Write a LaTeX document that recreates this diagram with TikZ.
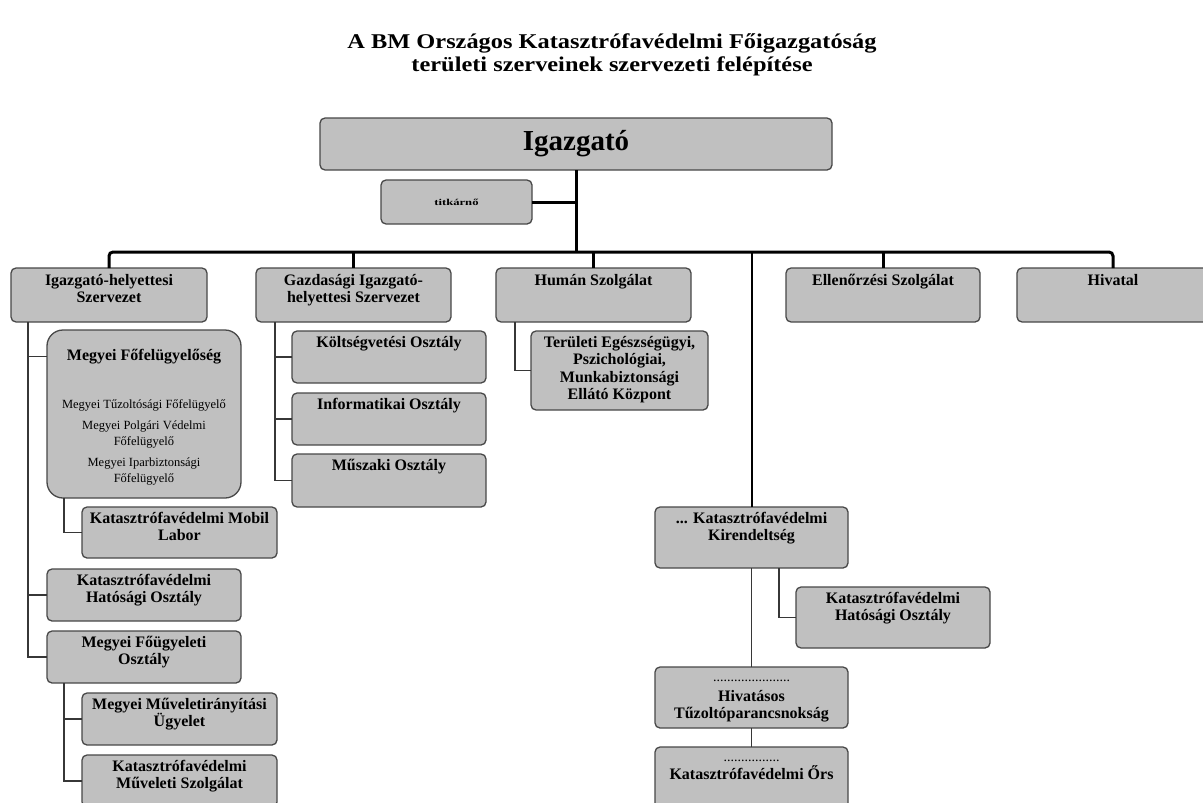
\documentclass[tikz,border=0pt]{standalone}
\usepackage{fontspec}
\usepackage{graphicx}
\setmainfont{Liberation Serif}
\definecolor{boxfill}{RGB}{192,192,192}
\definecolor{boxline}{RGB}{72,72,72}
\definecolor{conn}{RGB}{55,55,55}
\tikzset{
  box/.style={draw=boxline, fill=boxfill, line width=1.3pt, rounded corners=5pt, inner sep=0pt, outer sep=0pt},
  bigbox/.style={box, rounded corners=16pt},
  lbl/.style={font=\bfseries\fontsize{16}{17.5}\selectfont, align=center, inner sep=0pt, anchor=north},
  smalltxt/.style={font=\fontsize{12.5}{16}\selectfont, align=center, inner sep=0pt, anchor=north},
  busline/.style={line width=3pt, black},
  midline/.style={line width=2pt, black},
  thinline/.style={line width=1.2pt, conn},
  ttl/.style={font=\bfseries\fontsize{21}{23}\selectfont, inner sep=0pt, anchor=base},
}
\newcommand\dotrow[1]{{\mdseries\fontsize{14}{14}\selectfont #1}}
\begin{document}
\begin{tikzpicture}[x=1pt,y=-1pt]
\useasboundingbox (0,0) rectangle (1203,803);
\clip (0,0) rectangle (1203,803);
\fill[white] (0,0) rectangle (1203,803);

% title
\node[ttl] (t1) at (612,48) {\scalebox{1.16}[1]{A BM Országos Katasztrófavédelmi Főigazgatóság}};
\node[ttl] (t2) at (612,71) {\scalebox{1.16}[1]{területi szerveinek szervezeti felépítése}};

% top
\node[box, minimum width=512pt, minimum height=52pt, font=\bfseries\fontsize{29}{34}\selectfont] (igz) at (576,144) {Igazgató};
\node[box, minimum width=151pt, minimum height=44pt, font=\bfseries\fontsize{9}{10}\selectfont] (tit) at (456.5,202) {\scalebox{1.4}[1]{titkárnő}};

% level 1
\node[box, minimum width=196pt, minimum height=54pt] (ih) at (109,295) {};
\node[lbl] (ihT) at ([yshift=-6pt]ih.north) {Igazgató-helyettesi\\Szervezet};
\node[box, minimum width=195pt, minimum height=54pt] (gz) at (353.5,295) {};
\node[lbl] (gzT) at ([yshift=-6pt]gz.north) {Gazdasági Igazgató-\\helyettesi Szervezet};
\node[box, minimum width=195pt, minimum height=54pt] (hu) at (593.5,295) {};
\node[lbl] (huT) at ([yshift=-6pt]hu.north) {Humán Szolgálat};
\node[box, minimum width=194pt, minimum height=54pt] (el) at (883,295) {};
\node[lbl] (elT) at ([yshift=-6pt]el.north) {Ellenőrzési Szolgálat};
\node[box, minimum width=192pt, minimum height=54pt] (hi) at (1113,295) {};
\node[lbl] (hiT) at ([yshift=-6pt]hi.north) {Hivatal};

% Gazdasagi children
\node[box, minimum width=194pt, minimum height=52pt] (kol) at (389,357) {};
\node[lbl] (kolT) at ([yshift=-5pt]kol.north) {Költségvetési Osztály};
\node[box, minimum width=194pt, minimum height=52pt] (inf) at (389,419) {};
\node[lbl] (infT) at ([yshift=-5pt]inf.north) {Informatikai Osztály};
\node[box, minimum width=194pt, minimum height=53pt] (msz) at (389,480.5) {};
\node[lbl] (mszT) at ([yshift=-5pt]msz.north) {Műszaki Osztály};

% Human child
\node[box, minimum width=177pt, minimum height=79pt] (egs) at (619.5,370.5) {};
\node[lbl] (egsT) at ([yshift=-5pt]egs.north) {Területi Egészségügyi,\\Pszichológiai,\\Munkabiztonsági\\Ellátó Központ};

% left column
\node[bigbox, minimum width=194pt, minimum height=168pt] (ffe) at (144,414) {};
\node[lbl] (ffeT) at ([yshift=-19pt]ffe.north) {Megyei Főfelügyelőség};
\node[smalltxt] (ffeS) at ([yshift=-69pt]ffe.north) {Megyei Tűzoltósági Főfelügyelő\\[5pt]Megyei Polgári Védelmi\\Főfelügyelő\\[5pt]Megyei Iparbiztonsági\\Főfelügyelő};
\node[box, minimum width=195pt, minimum height=51pt] (mob) at (179.5,532.5) {};
\node[lbl] (mobT) at ([yshift=-5pt]mob.north) {Katasztrófavédelmi Mobil\\Labor};
\node[box, minimum width=194pt, minimum height=52pt] (kho) at (144,595) {};
\node[lbl] (khoT) at ([yshift=-5pt]kho.north) {Katasztrófavédelmi\\Hatósági Osztály};
\node[box, minimum width=194pt, minimum height=52pt] (fog) at (144,657) {};
\node[lbl] (fogT) at ([yshift=-5pt]fog.north) {Megyei Főügyeleti\\Osztály};
\node[box, minimum width=195pt, minimum height=52pt] (mui) at (179.5,719) {};
\node[lbl] (muiT) at ([yshift=-5pt]mui.north) {Megyei Műveletirányítási\\Ügyelet};
\node[box, minimum width=195pt, minimum height=52pt] (mvs) at (179.5,781) {};
\node[lbl] (mvsT) at ([yshift=-5pt]mvs.north) {Katasztrófavédelmi\\Műveleti Szolgálat};

% right column
\node[box, minimum width=193pt, minimum height=61pt] (kir) at (751.5,537.5) {};
\node[lbl] (kirT) at ([yshift=-5pt]kir.north) {... Katasztrófavédelmi\\Kirendeltség};
\node[box, minimum width=194pt, minimum height=61pt] (khr) at (893,617.5) {};
\node[lbl] (khrT) at ([yshift=-5pt]khr.north) {Katasztrófavédelmi\\Hatósági Osztály};
\node[box, minimum width=193pt, minimum height=61pt] (hiv) at (751.5,697.5) {};
\node[lbl] (hivT) at ([yshift=-13pt]hiv.north) {\dotrow{......................}\\[2pt]Hivatásos\\Tűzoltóparancsnokság};
\node[box, minimum width=193pt, minimum height=61pt] (ors) at (751.5,777.5) {};
\node[lbl] (orsT) at ([yshift=-13pt]ors.north) {\dotrow{................}\\Katasztrófavédelmi Őrs};

% thick connectors
\coordinate (bus) at (576,252);
\draw[busline, rounded corners=4pt] (ih.north) -- (ih.north |- bus) -- (hi.north |- bus) -- (hi.north);
\draw[busline] (gz.north) -- (gz.north |- bus);
\draw[busline] (hu.north) -- (hu.north |- bus);
\draw[busline] (el.north) -- (el.north |- bus);
\draw[busline] (igz.south) -- (igz.south |- bus);
\draw[busline] (tit.east) -- (tit.east -| igz.south);
\draw[midline] (kir.north) -- (kir.north |- bus);

% thin connectors
\coordinate (sp1) at ([xshift=17pt]ih.south west);
\draw[thinline] (sp1) |- (fog.west);
\draw[thinline] (sp1 |- ffeT.center) -- (ffe.west |- ffeT.center);
\draw[thinline] (sp1 |- kho.west) -- (kho.west);
\coordinate (sp2) at ([xshift=17pt]ffe.south west);
\draw[thinline] (sp2) |- (mob.west);
\coordinate (sp3) at ([xshift=17pt]fog.south west);
\draw[thinline] (sp3) |- (mvs.west);
\draw[thinline] (sp3 |- mui.west) -- (mui.west);
\coordinate (sp4) at ([xshift=19pt]gz.south west);
\draw[thinline] (sp4) |- (msz.west);
\draw[thinline] (sp4 |- kol.west) -- (kol.west);
\draw[thinline] (sp4 |- inf.west) -- (inf.west);
\coordinate (sp5) at ([xshift=19pt]hu.south west);
\draw[thinline] (sp5) |- (egs.west);
\coordinate (sp6) at ([xshift=27.5pt]kir.south);
\draw[thinline] (sp6) |- (khr.west);
\draw[thinline] (kir.south) -- (hiv.north);
\draw[thinline] (hiv.south) -- (ors.north);
\end{tikzpicture}
\end{document}
